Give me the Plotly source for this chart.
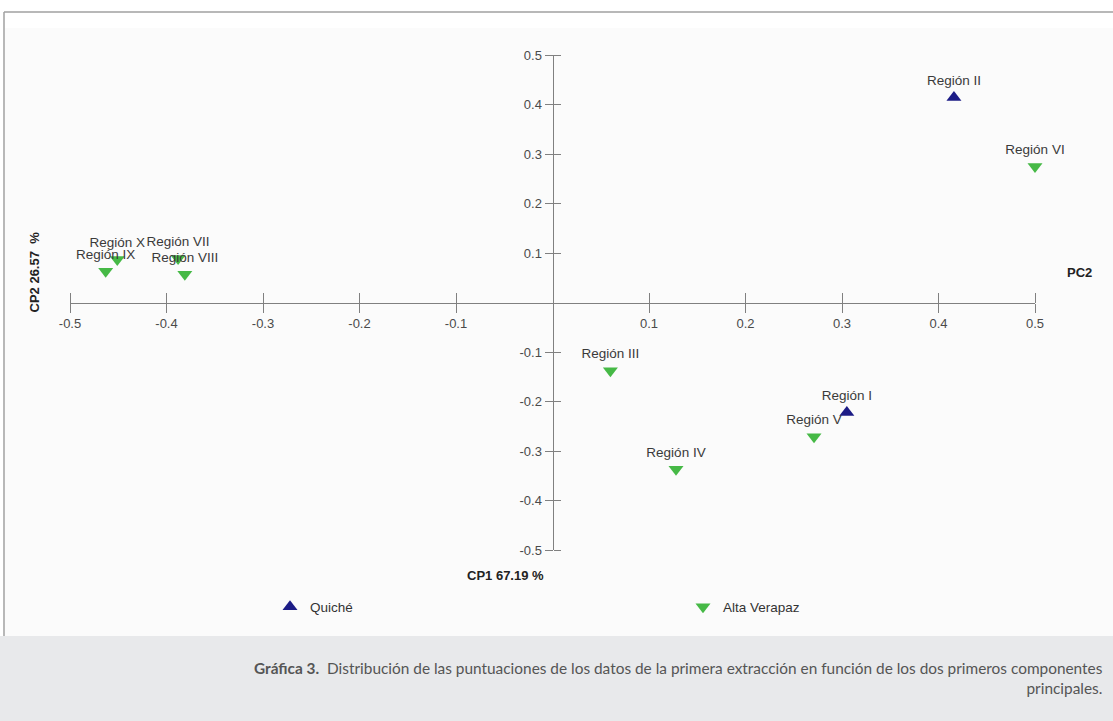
import plotly.graph_objects as go

# ---------------- data ----------------
quiche_labels = ["Región I", "Región II"]
quiche_cp1 = [0.305, 0.416]
quiche_cp2 = [-0.222, 0.414]

alta_labels = ["Región III", "Región IV", "Región V", "Región VI",
               "Región VII", "Región VIII", "Región IX", "Región X"]
alta_cp1 = [0.060, 0.128, 0.271, 0.500, -0.388, -0.381, -0.463, -0.451]
alta_cp2 = [-0.138, -0.337, -0.271, 0.275, 0.089, 0.057, 0.063, 0.087]

tick_vals = [-0.5, -0.4, -0.3, -0.2, -0.1, 0.1, 0.2, 0.3, 0.4, 0.5]
tick_text = ["-0.5", "-0.4", "-0.3", "-0.2", "-0.1", "0.1", "0.2", "0.3", "0.4", "0.5"]

group_names = ["Quiché", "Alta Verapaz"]
x_title = "CP1 67.19 %"
y_title = "CP2 26.57  %"
right_title = "PC2"
caption = ("<b>Gráfica 3.</b>  Distribución de las puntuaciones de los datos de la primera "
           "extracción en función de los dos primeros componentes<br>principales.")

# ---------------- layout geometry (pixels) ----------------
W, H = 1113, 721
ML, MR, MT, MB = 70, 78, 55, 171
PW, PH = W - ML - MR, H - MT - MB


def fx(px):
    return (px - ML) / PW


def fy(py):
    return (H - MB - py) / PH


ARIAL = "Arial, Liberation Sans, sans-serif"
label_font = dict(family=ARIAL, size=13.5, color="#3a3a3a")
tick_font = dict(family=ARIAL, size=13, color="#4a4a4a")
blue = "#1c1c86"
green = "#46b946"

fig = go.Figure()
fig.add_trace(go.Scatter(
    x=quiche_cp1, y=quiche_cp2, text=quiche_labels, name=group_names[0],
    mode="markers+text", textposition="top center", textfont=label_font,
    marker=dict(symbol="triangle-up", size=13, color=blue),
    cliponaxis=False, hoverinfo="text"))
fig.add_trace(go.Scatter(
    x=alta_cp1, y=alta_cp2, text=alta_labels, name=group_names[1],
    mode="markers+text", textposition="top center", textfont=label_font,
    marker=dict(symbol="triangle-down", size=13, color=green),
    cliponaxis=False, hoverinfo="text"))
# helper trace for the overlaid axes that draw the other half of each tick
fig.add_trace(go.Scatter(x=[], y=[], xaxis="x2", yaxis="y2", showlegend=False,
                         hoverinfo="skip"))

axis_common = dict(range=[-0.5, 0.5], showgrid=False, zeroline=False,
                   tickvals=tick_vals, anchor="free", position=0.5,
                   tickcolor="#808080", tickwidth=1)

fig.update_layout(
    width=W, height=H,
    margin=dict(l=ML, r=MR, t=MT, b=MB, autoexpand=False),
    paper_bgcolor="white", plot_bgcolor="rgba(0,0,0,0)",
    xaxis=dict(**axis_common, ticktext=tick_text, showline=True, linecolor="#808080",
               linewidth=1, ticks="outside", ticklen=9, tickfont=tick_font),
    yaxis=dict(**axis_common, ticktext=tick_text, showline=True, linecolor="#808080",
               linewidth=1, ticks="outside", ticklen=8, tickfont=tick_font),
    xaxis2=dict(**axis_common, overlaying="x", side="top", showline=False,
                ticks="outside", ticklen=10, showticklabels=False),
    yaxis2=dict(**axis_common, overlaying="y", side="right", showline=False,
                ticks="outside", ticklen=7, showticklabels=False),
    showlegend=True,
    legend=dict(orientation="h", x=fx(270), y=fy(607), xanchor="left", yanchor="middle",
                entrywidth=368, entrywidthmode="pixels", bgcolor="rgba(0,0,0,0)",
                font=dict(family=ARIAL, size=13.5, color="#333333"),
                itemclick=False, itemdoubleclick=False),
)

shapes = [
    # light panel behind the chart
    dict(type="rect", xref="paper", yref="paper", x0=fx(5), x1=fx(W), y0=fy(28), y1=fy(636),
         fillcolor="#fbfbfb", line=dict(width=0), layer="below"),
    # caption band
    dict(type="rect", xref="paper", yref="paper", x0=fx(0), x1=fx(W), y0=fy(636), y1=fy(H),
         fillcolor="#e8e9eb", line=dict(width=0), layer="below"),
    # frame lines
    dict(type="line", xref="paper", yref="paper", x0=fx(4), x1=fx(W), y0=fy(12), y1=fy(12),
         line=dict(color="#a0a0a0", width=1.5)),
    dict(type="line", xref="paper", yref="paper", x0=fx(4), x1=fx(4), y0=fy(12), y1=fy(636),
         line=dict(color="#a0a0a0", width=1.5)),
]
fig.update_layout(shapes=shapes)

bold_font = dict(family=ARIAL, size=13, color="#222222")
fig.add_annotation(text="<b>%s</b>" % x_title, xref="paper", yref="paper",
                   x=fx(505), y=fy(585), showarrow=False, font=bold_font)
fig.add_annotation(text="<b>%s</b>" % right_title, xref="paper", yref="paper",
                   x=fx(1094), y=fy(272), showarrow=False, font=bold_font)
fig.add_annotation(text="<b>%s</b>" % y_title, xref="paper", yref="paper",
                   x=fx(24), y=fy(272), showarrow=False, textangle=-90, font=bold_font)
fig.add_annotation(text=caption, xref="paper", yref="paper",
                   x=fx(1105), y=fy(678), xanchor="right", yanchor="middle", align="right",
                   showarrow=False,
                   font=dict(family="Lato, Open Sans, sans-serif", size=15.4, color="#555555"))

fig.write_html("out.html", config={"displayModeBar": False},
               post_script="document.body.style.margin='0';document.body.style.padding='0';")
